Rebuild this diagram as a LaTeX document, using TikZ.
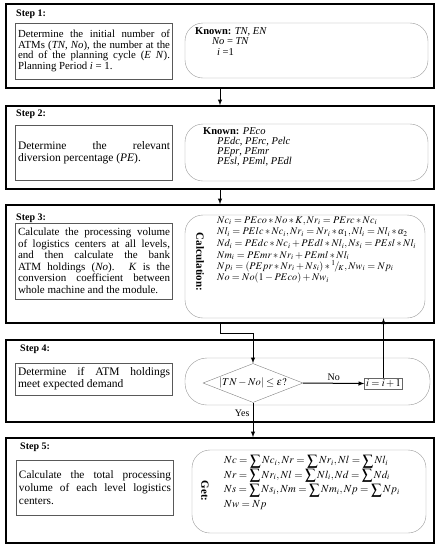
\documentclass[tikz,border=0pt]{standalone}
\usepackage{mathptmx}
\usepackage{graphicx}
\usepackage[no-math]{fontspec}
\setmainfont{Liberation Serif}
\usetikzlibrary{shapes.geometric}

\newcommand{\bsum}{\mathop{\raisebox{-0.3ex}{\scalebox{1.4}{$\sum$}}}\nolimits}
\newcommand{\alf}{\mbox{\itshape α}}

\begin{document}
\begin{tikzpicture}[x=1pt,y=1pt,>=latex]
    \useasboundingbox (0,0) rectangle (440,-550);

    \tikzstyle{sbox} = [draw=black, line width=1.4pt, rectangle, inner sep=0pt, minimum width=428pt]
    \tikzstyle{tbox} = [draw=black!65, thin, rectangle, inner sep=2.5pt, text width=152pt, align=justify]
    \tikzstyle{kbox} = [draw=black!40, thin, rectangle, rounded corners=18pt, inner sep=0pt]
    \tikzstyle{slabel} = [anchor=west, inner sep=0pt, font=\fontsize{10}{12}\selectfont\bfseries]
    \tikzstyle{eqn} = [anchor=north west, align=left, inner sep=0pt]
    \tikzstyle{side} = [rotate=-90, inner sep=0pt, font=\fontsize{11}{13}\selectfont\bfseries]

    % step boxes
    \node[sbox, minimum height=84pt] (s1) at (220,-46) {};
    \node[sbox, minimum height=83pt] (s2) at (220,-147.5) {};
    \node[sbox, minimum height=118pt] (s3) at (220,-264) {};
    \node[sbox, minimum height=82pt] (s4) at (220,-381) {};
    \node[sbox, minimum height=105pt] (s5) at (220,-490.5) {};

    \node[slabel] (l1) at (16,-14) {Step 1:};
    \node[slabel] (l2) at (16,-114) {Step 2:};
    \node[slabel] (l3) at (16,-218) {Step 3:};
    \node[slabel] (l4) at (20,-349) {Step 4:};
    \node[slabel] (l5) at (20,-447) {Step 5:};

    % left descriptions
    \node[tbox, minimum height=56pt, font=\fontsize{10.8}{10.6}\selectfont] (t1) at (94,-51)
      {Determine the initial number of\linebreak ATMs (\textit{TN}, \textit{No}), the number at the\linebreak end of the planning cycle (\textit{E N}).\linebreak Planning Period \textit{i} = 1.};
    \node[tbox, minimum height=55pt, font=\fontsize{11.5}{11.5}\selectfont] (t2) at (94,-152.5)
      {Determine the relevant\linebreak diversion percentage (\textit{PE}).};
    \node[tbox, minimum height=76pt, font=\fontsize{11}{11.5}\selectfont] (t3) at (94,-261)
      {Calculate the processing volume\linebreak of logistics centers at all levels,\linebreak and then calculate the bank\linebreak ATM holdings (\textit{No}). \textit{K} is the\linebreak conversion coefficient between\linebreak whole machine and the module.};
    \node[tbox, minimum height=32pt, font=\fontsize{11.5}{12}\selectfont] (t4) at (94,-379)
      {Determine if ATM holdings\linebreak meet expected demand};
    \node[tbox, minimum height=55pt, font=\fontsize{11.3}{13.3}\selectfont] (t5) at (95,-487.5)
      {Calculate the total processing\linebreak volume of each level logistics\linebreak centers.};

    % rounded boxes
    \node[kbox, minimum width=243pt, minimum height=55pt] (r1) at (306.5,-50.5) {};
    \node[kbox, minimum width=243pt, minimum height=57pt] (r2) at (306.5,-152.5) {};
    \node[kbox, minimum width=240pt, minimum height=103pt] (r3) at (305,-266.5) {};
    \node[kbox, rounded corners=22pt, minimum width=245pt, minimum height=47pt] (r4) at (307.5,-381.5) {};
    \node[kbox, minimum width=234pt, minimum height=83pt] (r5) at (309,-491.5) {};

    \node[eqn, font=\fontsize{10.5}{10.5}\selectfont] (k1) at (195,-27)
      {\textbf{Known:} \textit{TN}, \textit{EN}\\
       \hspace{17pt}\textit{No} = \textit{TN}\\
       \hspace{22pt}\textit{i} =1};
    \node[eqn, font=\fontsize{10.5}{10}\selectfont] (k2) at (203,-127)
      {\textbf{Known:} \textit{PEco}\\
       \hspace{14pt}\textit{PEdc}, \textit{PErc}, \textit{Pelc}\\
       \hspace{14pt}\textit{PEpr}, \textit{PEmr}\\
       \hspace{14pt}\textit{PEsl}, \textit{PEml}, \textit{PEdl}};

    \node[side] (c3) at (200,-262) {Calculation:};
    \node[eqn, font=\fontsize{10.2}{11.2}\selectfont] (k3) at (217,-216.5)
      {$Nc_i = PEco*No*K, Nr_i = PErc*Nc_i$\\
       $Nl_i = PElc*Nc_i, Nr_i = Nr_i*\alf_1, Nl_i = Nl_i*\alf_2$\\[1.2pt]
       $Nd_i = PEdc*Nc_i + PEdl*Nl_i, Ns_i = PEsl*Nl_i$\\
       $Nm_i = PEmr*Nr_i + PEml*Nl_i$\\
       $Np_i = (PEpr*Nr_i + Ns_i)*{}^1\!/\!{}_K, Nw_i = Np_i$\\
       $No = No(1-PEco) + Nw_i$};

    \node[side] (c5) at (205,-491) {Get:};
    \node[eqn, font=\fontsize{10.8}{14.4}\selectfont] (k5) at (224,-455)
      {$Nc = \bsum Nc_i, Nr = \bsum Nr_i, Nl = \bsum Nl_i$\\
       $Nr = \bsum Nr_i, Nl = \bsum Nl_i, Nd = \bsum Nd_i$\\
       $Ns = \bsum Ns_i, Nm = \bsum Nm_i, Np = \bsum Np_i$\\
       $Nw = Np$};

    % decision
    \node[draw=black!50, thin, diamond, aspect=2.5, inner sep=0pt, minimum width=100pt, minimum height=39pt,
          font=\fontsize{10.5}{12}\selectfont] (dec) at (253,-383) {$\left|TN-No\right|\le\varepsilon?$};
    \node[draw=black!60, thin, inner sep=1.5pt, font=\fontsize{10.5}{12}\selectfont] (inc) at (383.5,-383.5) {$i=i+1$};

    % edges
    \draw[->, line width=1pt] (s1.south) -- (s2.north);
    \draw[->, line width=1pt] (s2.south) -- (s3.north);
    \draw[->, line width=1pt] (s3.south) -- ++(0,-10) -| (dec.north);
    \draw[->, line width=1pt] (dec.east) -- node[above, inner sep=2pt, font=\fontsize{10}{11}\selectfont] {No} (inc.west);
    \draw[->, line width=1pt] (inc.north) -- (inc.north |- r3.south);
    \draw[->, line width=1pt] (dec.south) -- node[pos=0.3, left, inner sep=3pt, font=\fontsize{10}{11}\selectfont] {Yes} (dec.south |- s5.north);
\end{tikzpicture}
\end{document}
